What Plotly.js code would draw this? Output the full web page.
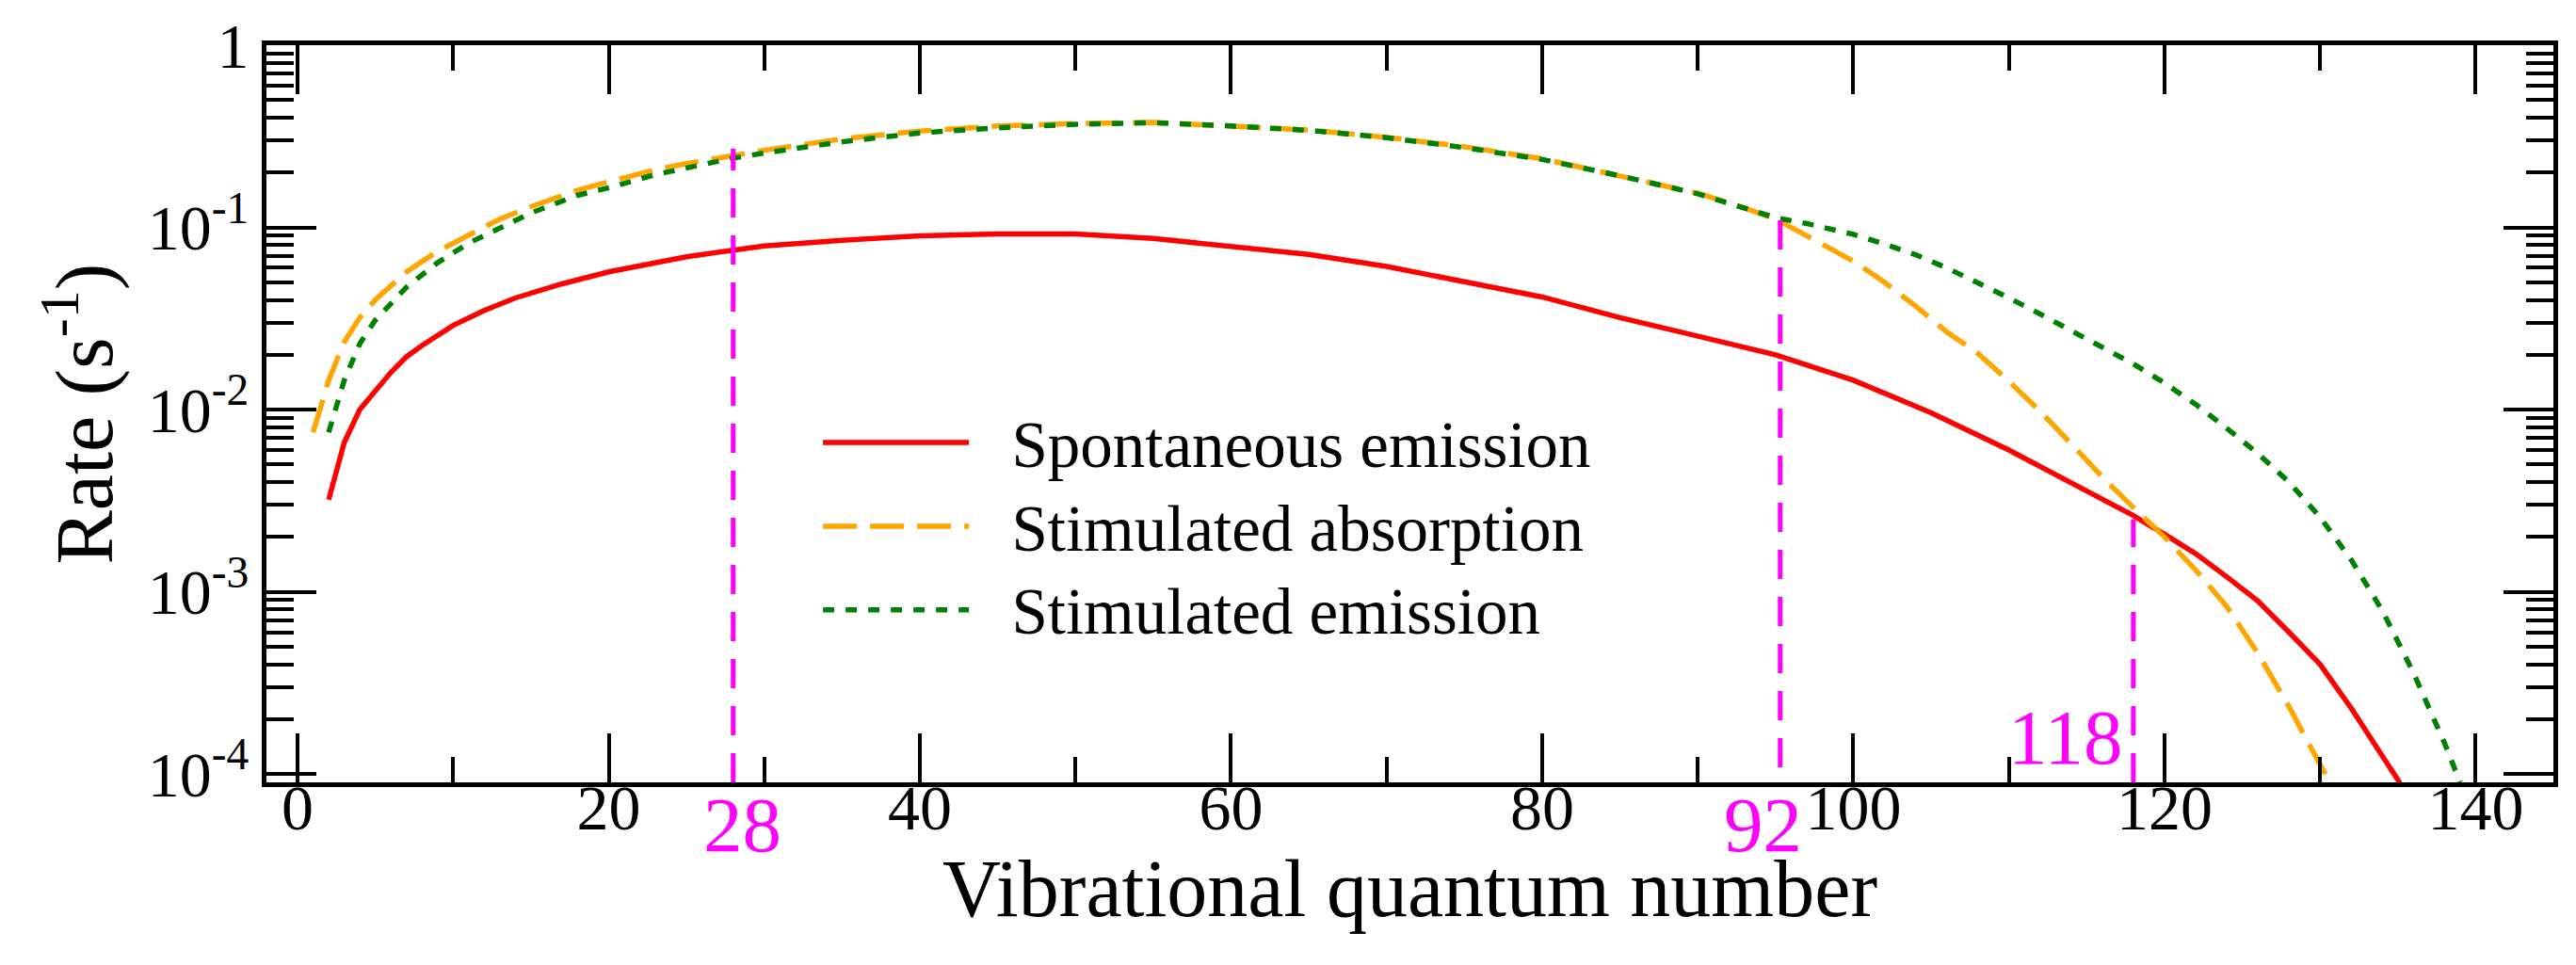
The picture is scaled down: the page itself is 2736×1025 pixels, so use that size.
<!DOCTYPE html>
<html>
<head>
<meta charset="utf-8">
<script src="https://cdn.plot.ly/plotly-3.0.1.min.js"></script>
<style>
html,body{margin:0;padding:0;background:#fff;}
#chart{width:2736px;height:1025px;}
</style>
</head>
<body>
<div id="chart"></div>
<script>
// ---- data ----
const vSpont = [2,3,4,5,6,7,8,10,12,14,17,20,25,28,30,35,40,45,50,55,60,65,70,75,80,85,90,95,100,105,110,115,118,120,122,124,126,128,130,132,134,135,136];
const rateSpont = [3.2e-3,6.6e-3,1.0e-2,1.28e-2,1.6e-2,1.95e-2,2.25e-2,2.9e-2,3.5e-2,4.1e-2,4.9e-2,5.7e-2,6.9e-2,7.5e-2,7.9e-2,8.5e-2,9.0e-2,9.2e-2,9.2e-2,8.7e-2,7.9e-2,7.1e-2,6.1e-2,5.0e-2,4.15e-2,3.2e-2,2.55e-2,2.0e-2,1.45e-2,9.6e-3,6.0e-3,3.55e-3,2.62e-3,2.07e-3,1.62e-3,1.21e-3,8.9e-4,6.0e-4,4.0e-4,2.3e-4,1.27e-4,9.3e-5,6.5e-5];

const vAbs = [1,2,3,4,5,7,9,11,13,15,18,20,23,25,28,30,35,40,45,50,55,60,65,70,75,80,85,90,93,95,97,100,102,104,106,108,110,112,114,116,118,120,122,124,126,128,129,130,131];
const rateAbs = [7.5e-3,1.45e-2,2.35e-2,3.2e-2,4.0e-2,5.7e-2,7.4e-2,9.0e-2,0.111,0.13,0.16,0.178,0.207,0.224,0.25,0.265,0.306,0.338,0.36,0.372,0.377,0.362,0.343,0.312,0.277,0.238,0.193,0.154,0.128,0.111,0.090,0.0653,0.050,0.037,0.0267,0.0204,0.0143,9.8e-3,6.5e-3,4.27e-3,2.9e-3,2.0e-3,1.32e-3,8.3e-4,4.6e-4,2.35e-4,1.62e-4,1.15e-4,7.9e-5];

const vStim = [2,3,4,5,7,9,11,13,15,18,20,23,25,28,30,35,40,45,50,55,60,65,70,75,80,85,90,93,95,97,100,102,104,106,108,110,112,114,116,118,120,122,124,126,128,130,132,134,136,137,138,139];
const rateStim = [7.5e-3,1.45e-2,2.3e-2,3.1e-2,4.7e-2,6.4e-2,8.2e-2,0.10,0.12,0.15,0.165,0.195,0.213,0.24,0.256,0.295,0.33,0.352,0.368,0.375,0.36,0.341,0.311,0.274,0.236,0.192,0.153,0.128,0.113,0.105,0.0916,0.081,0.0708,0.060,0.0499,0.041,0.0335,0.027,0.0219,0.0178,0.014,0.0107,7.9e-3,5.75e-3,4.0e-3,2.57e-3,1.5e-3,7.9e-4,3.6e-4,2.3e-4,1.48e-4,9.0e-5];

// marked vibrational levels (vertical dashed lines)
const markX = [28, 95.3, 118];
const markTop = [0.27, 0.116, 2.5e-3];
const markBottom = [9e-5, 1.09e-4, 9e-5];
const markLabels = ['28', '92', '118'];
const markLabelX = [28.6, 94.2, 113.6];

// tick labels
const xTickVals = [0,20,40,60,80,100,120,140];
const yTickVals = [1e-4,1e-3,1e-2,1e-1,1];
const yTickText = ['10<sup>-4</sup>','10<sup>-3</sup>','10<sup>-2</sup>','10<sup>-1</sup>','1'];

const seriesNames = ['Spontaneous emission','Stimulated absorption','Stimulated emission'];

// ---- build ----
const FONT = 'Liberation Serif, Times New Roman, serif';
const LEGEND_GAP = '\u2002\u200A';
const legendLabel = (s) => '<span style="font-size:69px">' + LEGEND_GAP + s + '</span>';
const yMinorVals = [];
for (let e = -5; e < 0; e++) {
  for (let d = 2; d <= 9; d++) yMinorVals.push(d * Math.pow(10, e));
}

const traces = [
  {x: vSpont, y: rateSpont, name: legendLabel(seriesNames[0]), mode: 'lines',
   line: {color: '#ff0000', width: 5.5}},
  {x: vAbs, y: rateAbs, name: legendLabel(seriesNames[1]), mode: 'lines',
   line: {color: '#ffa500', width: 5.5, dash: '36px,14px'}},
  {x: vStim, y: rateStim, name: legendLabel(seriesNames[2]), mode: 'lines',
   line: {color: '#008000', width: 5.5, dash: '12px,12px'}}
];
for (let i = 0; i < markX.length; i++) {
  traces.push({x: [markX[i], markX[i]], y: [markBottom[i], markTop[i]], mode: 'lines',
    showlegend: false, hoverinfo: 'skip',
    line: {color: '#ff00ff', width: 5, dash: '31px,19px'}});
}

const annotations = markLabels.map((t, i) => ({
  x: markLabelX[i], xref: 'x',
  y: i === 2 ? 0.061 : -0.0575, yref: 'paper',
  text: t, showarrow: false, xanchor: 'center', yanchor: 'middle',
  font: {family: FONT, size: 83, color: '#ff00ff'}
}));

const layout = {
  width: 2736, height: 1025,
  margin: {l: 283, r: 24, t: 48, b: 194},
  paper_bgcolor: '#fff', plot_bgcolor: '#fff',
  font: {family: FONT, color: '#000', size: 68},
  showlegend: true,
  legend: {x: 0.2413, y: 0.524, xanchor: 'left', yanchor: 'top',
    bgcolor: 'rgba(0,0,0,0)', borderwidth: 0, itemwidth: 155,
    font: {family: FONT, size: 66, color: '#000'}, tracegroupgap: 0},
  xaxis: {
    range: [-2, 145], tickmode: 'array', tickvals: xTickVals,
    ticks: 'inside', ticklen: 52, tickwidth: 4, tickcolor: '#000',
    minor: {dtick: 10, tick0: 0, ticks: 'inside', ticklen: 27, tickwidth: 4, tickcolor: '#000'},
    showline: true, linewidth: 5, linecolor: '#000', mirror: 'ticks',
    showgrid: false, zeroline: false,
    ticklabelposition: 'outside', ticklabelstandoff: -37,
    tickfont: {family: FONT, size: 68, color: '#000'},
    title: {text: 'Vibrational quantum number', font: {family: FONT, size: 86, color: '#000'}, standoff: 14}
  },
  yaxis: {
    type: 'log', range: [Math.log10(9e-5), 0],
    tickmode: 'array', tickvals: yTickVals, ticktext: yTickText,
    ticks: 'inside', ticklen: 53, tickwidth: 4, tickcolor: '#000',
    minor: {tickmode: 'array', tickvals: yMinorVals, ticks: 'inside', ticklen: 29, tickwidth: 4, tickcolor: '#000'},
    showline: true, linewidth: 5, linecolor: '#000', mirror: 'ticks',
    showgrid: false, zeroline: false,
    tickfont: {family: FONT, size: 68, color: '#000'},
    title: {text: 'Rate (s<sup>-1</sup>)', font: {family: FONT, size: 86, color: '#000'}, standoff: 10}
  },
  annotations: annotations
};

Plotly.newPlot('chart', traces, layout, {displayModeBar: false, staticPlot: true});
</script>
</body>
</html>
